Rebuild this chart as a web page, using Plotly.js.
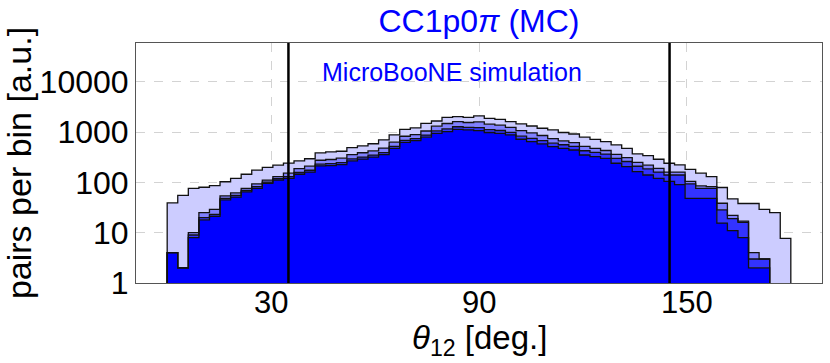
<!DOCTYPE html>
<html><head><meta charset="utf-8">
<script src="https://cdn.plot.ly/plotly-3.0.1.min.js"></script>
<style>html,body{margin:0;padding:0;background:#fff}#chart{width:830px;height:363px}</style>
</head><body><div id="chart"></div>
<script>
// Histogram binning (degrees)
const binLow = 0, binHigh = 180, nBins = 59;

// Stacked components per bin (bottom to top)
const layerBlue = [4,2,8,18,21,45,51,65,76,96,111,120,145,160,212,215,225,268,290,318,355,475,626,677,790,945,1020,1135,1100,1070,980,945,875,720,645,580,515,475,440,350,325,300,240,205,164,140,120,105,90,48,48,48,15.5,11,8,2,2,0,0];
const layerDark = [0,0,1,2,2,3,4,4,6,5,7,10,12,14,18,20,22,25,28,30,35,45,60,65,80,115,140,140,140,150,135,130,115,110,105,95,85,85,80,75,70,65,60,55,45,45,40,35,50,45,28,28,13,8,8,1,1,0,0];
const layerMid = [0,0,1,5,6,6,7,7,11,10,12,22,30,36,45,50,55,62,70,75,90,110,140,150,180,250,320,330,310,370,320,295,245,240,210,180,140,105,95,95,80,65,60,50,40,35,30,20,20,12,9,6,10,3,1,1,0,0,0];
const layerLight = [35,53,66,55,57,49,58,69,82,87,90,90,81,85,110,120,113,135,142,162,220,250,304,318,440,350,470,425,410,500,435,420,375,380,360,335,360,315,300,270,242,215,195,165,118,120,98,80,62,77,67,48,40.5,25,21,34,26,25,7.7];

const layerColors = ['#0000ff', '#3333ff', '#8080ff', '#ccccff'];
const cutLines = [35, 145];
const xTickVals = [30, 90, 150];
const xTickText = ['30', '90', '150'];
const yTickVals = [1, 10, 100, 1000, 10000];
const yTickText = ['1', '10', '100', '1000', '10000'];

const width = (binHigh - binLow) / nBins;
const edges = Array.from({length: nBins}, (_, i) => binLow + i * width);
const layers = [layerBlue, layerDark, layerMid, layerLight];
const levels = [];
let run = new Array(nBins).fill(0);
layers.forEach(l => { run = run.map((v, i) => v + l[i]); levels.push(run.slice()); });

const FLOOR = 0.05;
function stepXY(vals) {
  const v = vals.map(a => a > 0 ? a : FLOOR);
  return {x: [binLow, ...edges, binHigh, binHigh], y: [FLOOR, ...v, v[v.length - 1], FLOOR]};
}
const base = stepXY(new Array(nBins).fill(0));
const traces = [{x: base.x, y: base.y, mode: 'lines', line: {width: 0, shape: 'hv'}, showlegend: false, hoverinfo: 'skip'}];
levels.forEach((lv, k) => {
  const s = stepXY(lv);
  traces.push({x: s.x, y: s.y, mode: 'lines', fill: 'tonexty', fillcolor: layerColors[k],
    line: {width: 0, shape: 'hv'}, showlegend: false, hoverinfo: 'skip'});
});
levels.forEach(lv => {
  const s = stepXY(lv);
  traces.push({x: s.x, y: s.y, mode: 'lines', line: {color: '#111', width: 1.3, shape: 'hv'}, showlegend: false, hoverinfo: 'skip'});
});

const FONT = 'Liberation Sans, Arial, Helvetica, sans-serif';
const axisCommon = {
  ticks: '', showgrid: true, gridcolor: '#d3d3d3', griddash: 'dash', gridwidth: 1,
  showline: true, mirror: true, linecolor: '#555', linewidth: 1, zeroline: false,
  tickfont: {family: FONT, size: 32, color: '#000'}
};
const annotations = [{text: 'MicroBooNE simulation', xref: 'paper', yref: 'paper', x: 0.461, y: 0.879,
  xanchor: 'center', yanchor: 'middle', showarrow: false, font: {family: FONT, size: 25, color: '#0000ff'}}];
xTickVals.forEach((v, i) => annotations.push({text: xTickText[i], xref: 'x', yref: 'paper', x: v, y: 0,
  xanchor: 'center', yanchor: 'middle', yshift: -19, borderpad: 0, showarrow: false, font: {family: FONT, size: 31, color: '#000'}}));
annotations.push({text: '<i>θ</i><sub>12</sub> [deg.]', xref: 'paper', yref: 'paper', x: 0.5, y: 0,
  xanchor: 'center', yanchor: 'middle', yshift: -57, borderpad: 0, showarrow: false, font: {family: FONT, size: 33, color: '#000'}});

const layout = {
  width: 830, height: 363,
  margin: {l: 136, r: 8, t: 43, b: 80},
  paper_bgcolor: '#fff', plot_bgcolor: '#fff',
  font: {family: FONT, color: '#000'},
  title: {text: 'CC1p0<i>π</i> (MC)', font: {family: FONT, size: 32, color: '#0000ff'},
    x: 0.5, xref: 'paper', xanchor: 'center', y: 0.942, yref: 'container', yanchor: 'middle'},
  xaxis: Object.assign({}, axisCommon, {range: [-9, 189], tickmode: 'array', tickvals: xTickVals, showticklabels: false}),
  yaxis: Object.assign({}, axisCommon, {type: 'log', range: [0, 4.77], tickmode: 'array', tickvals: yTickVals, ticktext: yTickText,
    title: {text: 'pairs per bin [a.u.]', font: {family: FONT, size: 34, color: '#000'}, standoff: 6}}),
  shapes: cutLines.map(c => ({type: 'line', xref: 'x', yref: 'paper', x0: c, x1: c, y0: 0, y1: 1,
    line: {color: '#000', width: 2.5}})),
  annotations: annotations
};
Plotly.newPlot('chart', traces, layout, {staticPlot: true, displayModeBar: false});
</script></body></html>
